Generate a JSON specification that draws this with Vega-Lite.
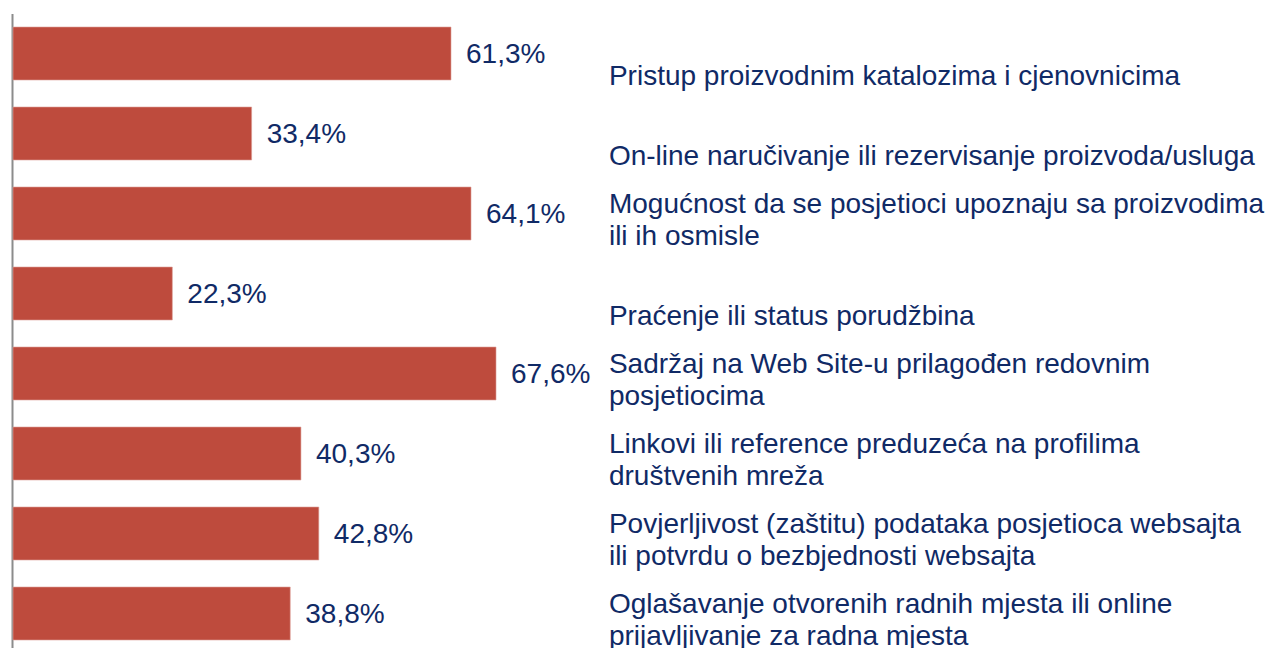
{
  "$schema": "https://vega.github.io/schema/vega-lite/v6.json",
  "width": 1254,
  "height": 640,
  "padding": {"left": 12, "top": 13.5, "right": 0, "bottom": 0},
  "background": "white",
  "config": {"view": {"stroke": null}, "font": "Liberation Sans"},
  "data": {
    "values": [
      {"kategorija": "Pristup proizvodnim katalozima i cjenovnicima", "gornji": "", "donji": "Pristup proizvodnim katalozima i cjenovnicima", "procenat": 61.3, "oznaka": "61,3%"},
      {"kategorija": "On-line naručivanje ili rezervisanje proizvoda/usluga", "gornji": "", "donji": "On-line naručivanje ili rezervisanje proizvoda/usluga", "procenat": 33.4, "oznaka": "33,4%"},
      {"kategorija": "Mogućnost da se posjetioci upoznaju sa proizvodima ili ih osmisle", "gornji": "Mogućnost da se posjetioci upoznaju sa proizvodima", "donji": "ili ih osmisle", "procenat": 64.1, "oznaka": "64,1%"},
      {"kategorija": "Praćenje ili status porudžbina", "gornji": "", "donji": "Praćenje ili status porudžbina", "procenat": 22.3, "oznaka": "22,3%"},
      {"kategorija": "Sadržaj na Web Site-u prilagođen redovnim posjetiocima", "gornji": "Sadržaj na Web Site-u prilagođen redovnim", "donji": "posjetiocima", "procenat": 67.6, "oznaka": "67,6%"},
      {"kategorija": "Linkovi ili reference preduzeća na profilima društvenih mreža", "gornji": "Linkovi ili reference preduzeća na profilima", "donji": "društvenih mreža", "procenat": 40.3, "oznaka": "40,3%"},
      {"kategorija": "Povjerljivost (zaštitu) podataka posjetioca websajta ili potvrdu o bezbjednosti websajta", "gornji": "Povjerljivost (zaštitu) podataka posjetioca websajta", "donji": "ili potvrdu o bezbjednosti websajta", "procenat": 42.8, "oznaka": "42,8%"},
      {"kategorija": "Oglašavanje otvorenih radnih mjesta ili online prijavljivanje za radna mjesta", "gornji": "Oglašavanje otvorenih radnih mjesta ili online", "donji": "prijavljivanje za radna mjesta", "procenat": 38.8, "oznaka": "38,8%"}
    ]
  },
  "encoding": {
    "y": {
      "field": "kategorija",
      "type": "nominal",
      "sort": null,
      "scale": {"paddingInner": 0.3375, "paddingOuter": 0.16875},
      "axis": {"title": null, "labels": false, "ticks": false, "domainColor": "#8C8C8C", "domainWidth": 2, "offset": 1, "grid": false}
    }
  },
  "layer": [
    {
      "mark": {"type": "bar", "color": "#BE4B3D", "stroke": "#DDA39C", "strokeWidth": 0.6},
      "encoding": {
        "x": {"field": "procenat", "type": "quantitative", "scale": {"domain": [0, 175.5], "nice": false, "zero": true}, "axis": null}
      }
    },
    {
      "mark": {"type": "text", "align": "left", "baseline": "middle", "dx": 15, "dy": 1, "fontSize": 28, "color": "#102A66"},
      "encoding": {
        "x": {"field": "procenat", "type": "quantitative"},
        "text": {"field": "oznaka"}
      }
    },
    {
      "mark": {"type": "text", "align": "left", "baseline": "alphabetic", "dy": -0.5, "fontSize": 28, "color": "#102A66"},
      "encoding": {
        "x": {"datum": 83.4, "type": "quantitative"},
        "text": {"field": "gornji"}
      }
    },
    {
      "mark": {"type": "text", "align": "left", "baseline": "alphabetic", "dy": 31.5, "fontSize": 28, "color": "#102A66"},
      "encoding": {
        "x": {"datum": 83.4, "type": "quantitative"},
        "text": {"field": "donji"}
      }
    }
  ]
}
